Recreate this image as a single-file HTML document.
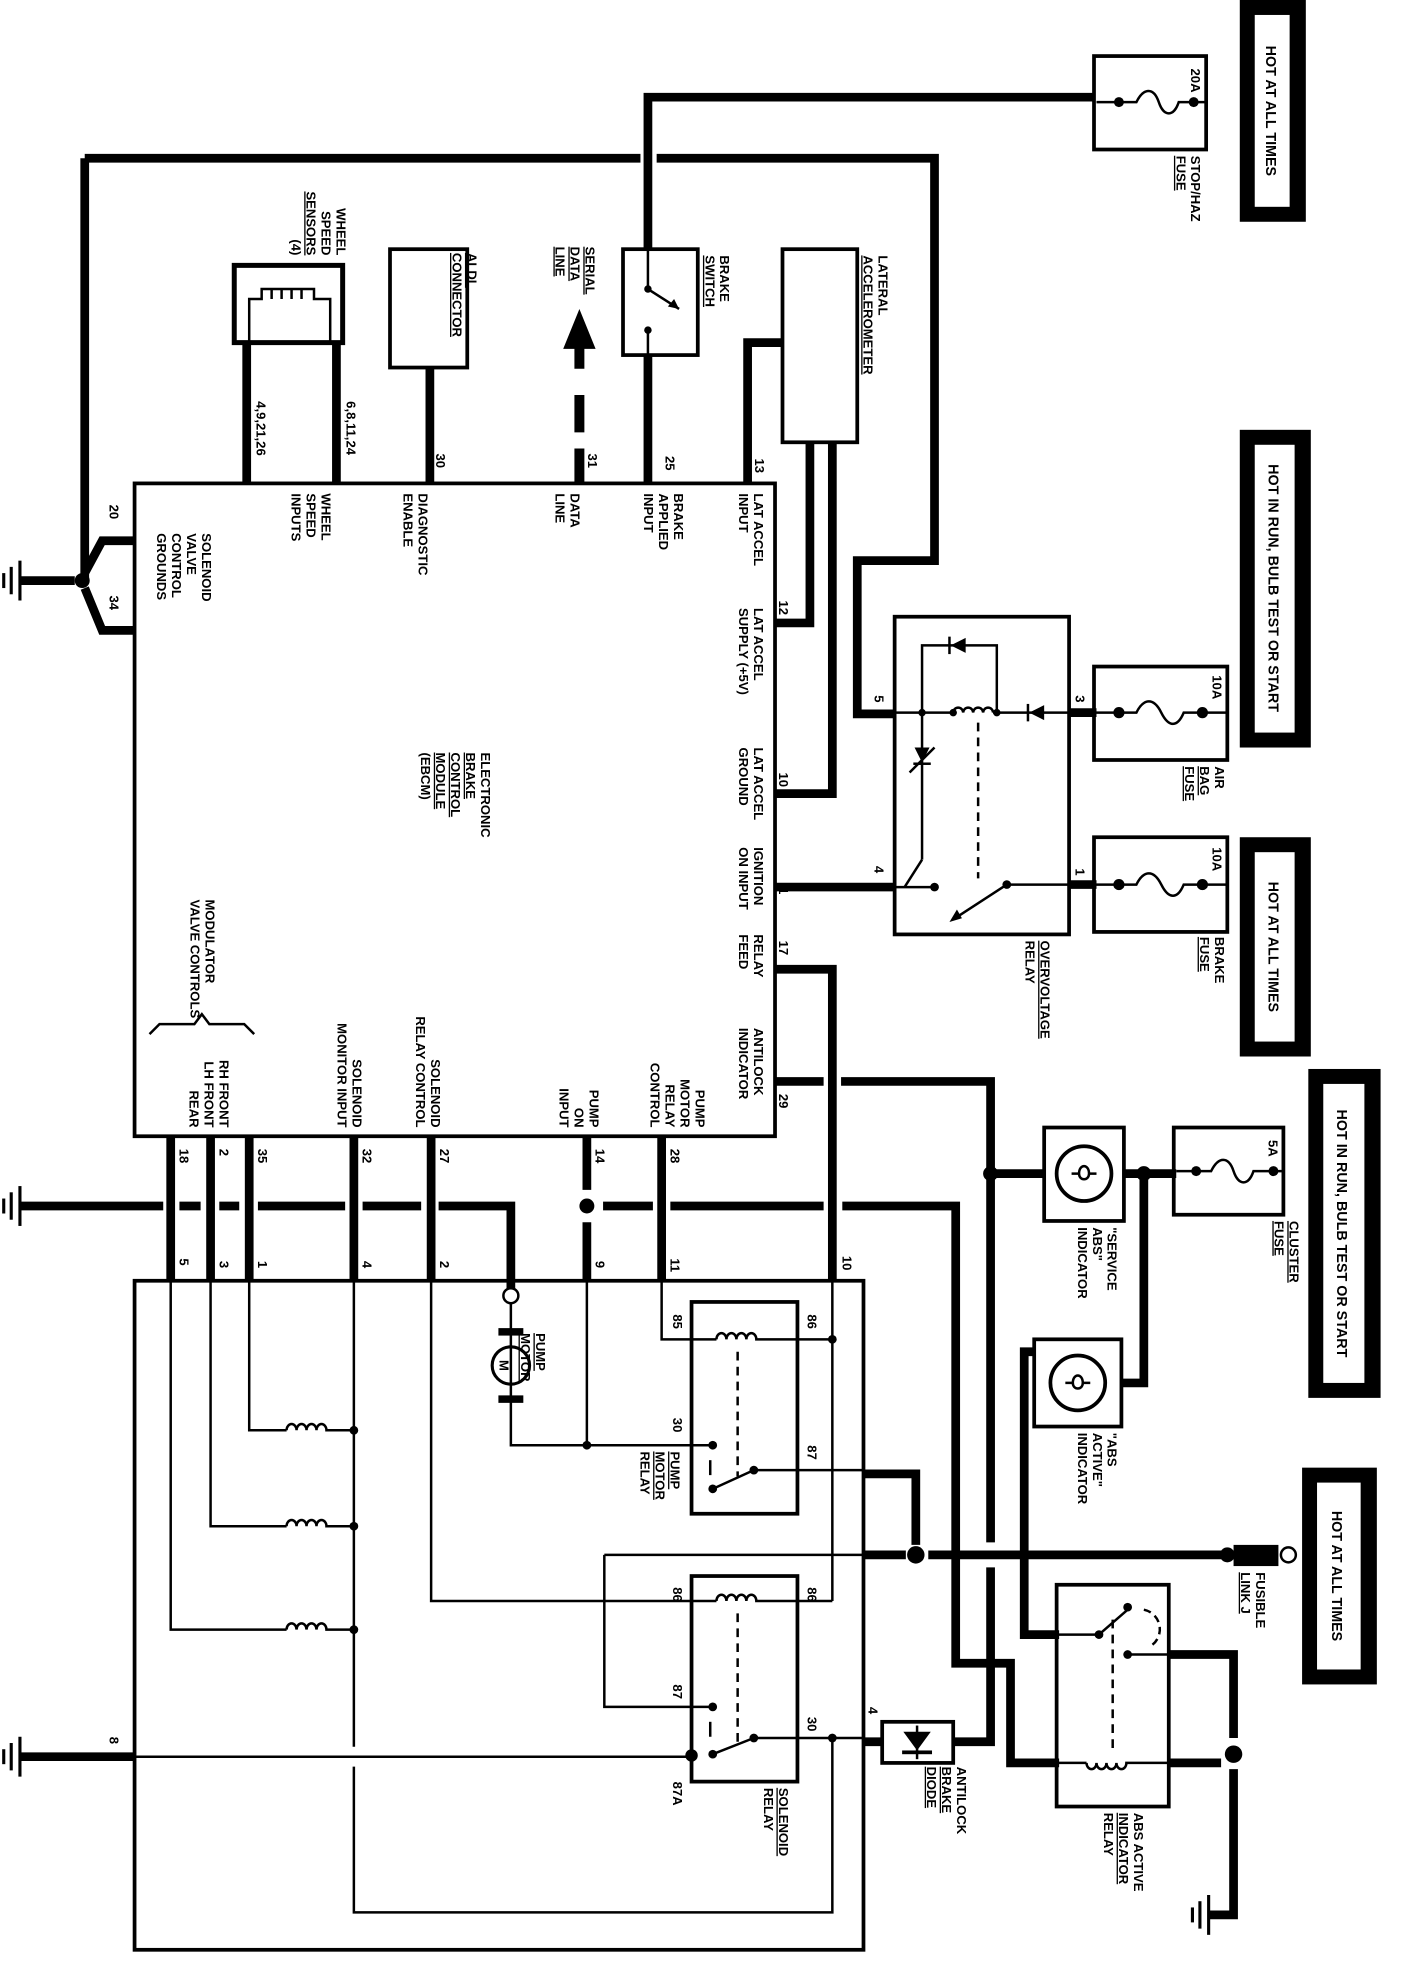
<!DOCTYPE html>
<html><head><meta charset="utf-8"><style>
html,body{margin:0;padding:0;background:#fff}
svg{display:block}
.t{font-family:"Liberation Sans Narrow","Liberation Sans",sans-serif;font-weight:bold;font-size:10.5px;fill:#000}
.u{text-decoration:underline}
.b{font-size:11.5px}
</style></head><body>
<svg width="1408" height="1966" viewBox="0 0 1130 1578" preserveAspectRatio="none" xmlns="http://www.w3.org/2000/svg">
<g fill="none" stroke="#000" stroke-linejoin="miter">
<rect x="108" y="388" width="514" height="524" stroke-width="3"/>
<rect x="108" y="1028" width="585" height="537" stroke-width="3"/>

<g stroke-width="7">
<polyline points="68,127 68,468"/>
<polyline points="68,460 82,434 108,434"/>
<polyline points="68,472 82,506 108,506"/>
<polyline points="16,466 60,466"/>
<polyline points="68,127 514,127"/>
<polyline points="527,127 750,127 750,450 688,450 688,573 718,573"/>
<polyline points="520,200 520,78 878,78"/>
<line x1="520" y1="285" x2="520" y2="388"/>
<line x1="198" y1="275" x2="198" y2="388"/>
<line x1="270" y1="275" x2="270" y2="388"/>
<line x1="345" y1="295" x2="345" y2="388"/>
<polyline points="628,275 600,275 600,388"/>
<polyline points="650,355 650,500 622,500"/>
<polyline points="668,355 668,637 622,637"/>
<line x1="622" y1="712" x2="718" y2="712"/>
<line x1="858" y1="572" x2="880" y2="572"/>
<line x1="858" y1="710" x2="880" y2="710"/>
<polyline points="622,778 668,778 668,1028"/>
<polyline points="622,868 661,868"/>
<polyline points="675,868 795,868 795,1238"/>
<polyline points="795,1258 795,1398 765,1398"/>
<line x1="795" y1="942" x2="838" y2="942"/>
<line x1="902" y1="942" x2="944" y2="942"/>
<polyline points="918,942 918,1110 900,1110"/>
<polyline points="830,1085 822,1085 822,1312 850,1312"/>
<line x1="16" y1="968" x2="131" y2="968"/>
<line x1="144" y1="968" x2="161" y2="968"/>
<line x1="176" y1="968" x2="192" y2="968"/>
<line x1="207" y1="968" x2="277" y2="968"/>
<line x1="291" y1="968" x2="338" y2="968"/>
<polyline points="352,968 410,968 410,1034"/>
<line x1="484" y1="968" x2="524" y2="968"/>
<line x1="538" y1="968" x2="661" y2="968"/>
<polyline points="676,968 767,968 767,1335 811,1335 811,1415 850,1415"/>
<line x1="137" y1="912" x2="137" y2="1028"/>
<line x1="169" y1="912" x2="169" y2="1028"/>
<line x1="200" y1="912" x2="200" y2="1028"/>
<line x1="284" y1="912" x2="284" y2="1028"/>
<line x1="346" y1="912" x2="346" y2="1028"/>
<line x1="471" y1="912" x2="471" y2="955"/>
<line x1="471" y1="981" x2="471" y2="1028"/>
<line x1="531" y1="912" x2="531" y2="1028"/>
<polyline points="693,1183 735,1183 735,1240"/>
<line x1="693" y1="1248" x2="727" y2="1248"/>
<line x1="745" y1="1248" x2="990" y2="1248"/>
<line x1="693" y1="1398" x2="708" y2="1398"/>
<polyline points="938,1328 990,1328 990,1395"/>
<polyline points="990,1420 990,1537 970,1537"/>
<line x1="938" y1="1415" x2="980" y2="1415"/>
<line x1="16" y1="1410" x2="108" y2="1410"/>
</g>

<g stroke-width="8">
<line x1="465" y1="278" x2="465" y2="296"/>
<line x1="465" y1="317" x2="465" y2="347"/>
<line x1="465" y1="360" x2="465" y2="388"/>
</g>

<rect x="500" y="200" width="60" height="85" stroke-width="3"/>
<rect x="188" y="213" width="87" height="62" stroke-width="4"/>
<polyline points="200,275 200,240 210,240 210,232 252,232 252,240 265,240 265,275" stroke-width="2"/>
<path d="M218 240 v-8 M226 240 v-8 M234 240 v-8 M242 240 v-8" stroke-width="2"/>
<rect x="313" y="200" width="62" height="95" stroke-width="3"/>
<rect x="628" y="200" width="60" height="155" stroke-width="3"/>
<rect x="718" y="495" width="140" height="255" stroke-width="3"/>
<rect x="878" y="45" width="90" height="75" stroke-width="3"/>
<rect x="878" y="535" width="107" height="75" stroke-width="3"/>
<rect x="878" y="672" width="107" height="76" stroke-width="3"/>
<rect x="942" y="905" width="88" height="70" stroke-width="3"/>
<rect x="838" y="905" width="64" height="75" stroke-width="3"/>
<rect x="830" y="1075" width="70" height="70" stroke-width="3"/>
<rect x="555" y="1045" width="85" height="170" stroke-width="3"/>
<rect x="555" y="1265" width="85" height="165" stroke-width="3"/>
<rect x="708" y="1382" width="57" height="33" stroke-width="3"/>
<rect x="848" y="1272" width="90" height="178" stroke-width="3"/>

<g stroke-width="2">
<path d="M880 82 H912 C918 70 926 70 930 82 S942 94 946 82 H968"/>
<path d="M880 572 H912 C918 560 926 560 932 572 S945 584 950 572 H985"/>
<path d="M880 710 H912 C918 698 926 698 932 710 S945 722 950 710 H985"/>
<path d="M944 940 H972 C978 928 986 928 990 940 S1002 952 1006 940 H1030"/>
</g>

<g stroke-width="2">
<line x1="520" y1="232" x2="545" y2="248"/>
<line x1="520" y1="265" x2="520" y2="285"/>
<line x1="520" y1="200" x2="520" y2="232"/>
</g>

<circle cx="870" cy="942" r="22" stroke-width="3"/>
<path d="M860 942 h6 c0 -8 8 -8 8 0 c0 6 -8 6 -8 0 M874 942 h6" stroke-width="2"/>
<circle cx="865" cy="1110" r="22" stroke-width="3"/>
<path d="M855 1110 h6 c0 -8 8 -8 8 0 c0 6 -8 6 -8 0 M869 1110 h6" stroke-width="2"/>

<g stroke-width="2">
<polyline points="740,572 740,518 800,518 800,572"/>
<line x1="718" y1="572" x2="765" y2="572"/>
<path d="M765 572 a4 4 0 0 1 8 0 a4 4 0 0 1 8 0 a4 4 0 0 1 8 0 a4 4 0 0 1 8 0"/>
<line x1="797" y1="572" x2="858" y2="572"/>
<line x1="740" y1="572" x2="740" y2="690"/>
<line x1="740" y1="690" x2="726" y2="712"/>
<line x1="718" y1="712" x2="752" y2="712"/>
<line x1="730" y1="620" x2="750" y2="600"/>
<line x1="785" y1="580" x2="785" y2="705" stroke-dasharray="7,5"/>
<line x1="808" y1="710" x2="858" y2="710"/>
<line x1="808" y1="710" x2="765" y2="738"/>
</g>

<g stroke-width="2">
<polyline points="200,1028 200,1148 230,1148"/>
<polyline points="169,1028 169,1225 230,1225"/>
<polyline points="137,1028 137,1308 230,1308"/>
<path d="M230 1148 a4 5 0 0 1 8 0 a4 5 0 0 1 8 0 a4 5 0 0 1 8 0 a4 5 0 0 1 8 0 H284"/>
<path d="M230 1225 a4 5 0 0 1 8 0 a4 5 0 0 1 8 0 a4 5 0 0 1 8 0 a4 5 0 0 1 8 0 H284"/>
<path d="M230 1308 a4 5 0 0 1 8 0 a4 5 0 0 1 8 0 a4 5 0 0 1 8 0 a4 5 0 0 1 8 0 H284"/>
<line x1="284" y1="1028" x2="284" y2="1402"/>
<polyline points="284,1418 284,1535 668,1535 668,1395"/>
<polyline points="346,1028 346,1285 575,1285"/>
<path d="M575 1285 a4 5 0 0 1 8 0 a4 5 0 0 1 8 0 a4 5 0 0 1 8 0 a4 5 0 0 1 8 0 H668"/>
<polyline points="531,1028 531,1075 575,1075"/>
<path d="M575 1075 a4 5 0 0 1 8 0 a4 5 0 0 1 8 0 a4 5 0 0 1 8 0 a4 5 0 0 1 8 0 H668"/>
<line x1="668" y1="1028" x2="668" y2="1285"/>
<line x1="592" y1="1085" x2="592" y2="1185" stroke-dasharray="7,5"/>
<line x1="592" y1="1295" x2="592" y2="1400" stroke-dasharray="7,5"/>
<polyline points="410,1046 410,1160 572,1160"/>
<line x1="471" y1="1028" x2="471" y2="1160"/>
<line x1="572" y1="1195" x2="605" y2="1180"/>
<line x1="605" y1="1180" x2="693" y2="1180"/>
<line x1="570" y1="1172" x2="570" y2="1184"/>
<polyline points="485,1248 693,1248"/>
<polyline points="485,1248 485,1370 572,1370"/>
<line x1="572" y1="1408" x2="605" y2="1395"/>
<line x1="605" y1="1395" x2="693" y2="1395"/>
<line x1="570" y1="1382" x2="570" y2="1394"/>
<line x1="108" y1="1410" x2="555" y2="1410"/>
<line x1="848" y1="1312" x2="882" y2="1312"/>
<line x1="882" y1="1312" x2="905" y2="1292"/>
<line x1="905" y1="1328" x2="938" y2="1328"/>
<path d="M918 1292 a16 16 0 0 1 4 30" stroke-dasharray="6,4"/>
<line x1="893" y1="1300" x2="893" y2="1405" stroke-dasharray="7,5"/>
<line x1="848" y1="1415" x2="872" y2="1415"/>
<path d="M872 1415 a4 5 0 0 0 8 0 a4 5 0 0 0 8 0 a4 5 0 0 0 8 0 a4 5 0 0 0 8 0 H938"/>
<line x1="736" y1="1385" x2="736" y2="1412"/>
</g>
<circle cx="410" cy="1096" r="15" stroke-width="2.5"/>
<circle cx="410" cy="1040" r="6" stroke-width="2" fill="#fff"/>
<circle cx="1034" cy="1248" r="6" stroke-width="2" fill="#fff"/>
<path d="M120 830 l8 -8 h28 l6 -8 l6 8 h28 l8 8" stroke-width="2"/>
<g stroke-width="2.5">
<line x1="16" y1="450" x2="16" y2="482"/><line x1="9" y1="455" x2="9" y2="477"/><line x1="3" y1="460" x2="3" y2="472"/>
<line x1="16" y1="952" x2="16" y2="984"/><line x1="9" y1="957" x2="9" y2="979"/><line x1="3" y1="962" x2="3" y2="974"/>
<line x1="16" y1="1394" x2="16" y2="1426"/><line x1="9" y1="1399" x2="9" y2="1421"/><line x1="3" y1="1404" x2="3" y2="1416"/>
<line x1="970" y1="1521" x2="970" y2="1553"/><line x1="963" y1="1526" x2="963" y2="1548"/><line x1="957" y1="1531" x2="957" y2="1543"/>
</g>
</g>

<g fill="#000">
<circle cx="66" cy="466" r="6"/>
<circle cx="471" cy="968" r="6"/>
<circle cx="795" cy="942" r="6"/>
<circle cx="918" cy="942" r="6"/>
<circle cx="735" cy="1248" r="7"/>
<circle cx="985" cy="1248" r="6"/>
<circle cx="990" cy="1408" r="7"/>
<polygon points="465,248 452,280 478,280"/>
<rect x="990" y="1240" width="36" height="17"/>
<rect x="400" y="1066" width="20" height="6"/>
<rect x="400" y="1120" width="20" height="6"/>
<circle cx="520" cy="232" r="3"/><circle cx="520" cy="265" r="3"/>
<circle cx="740" cy="572" r="3"/><circle cx="765" cy="572" r="3"/><circle cx="800" cy="572" r="3"/>
<circle cx="750" cy="712" r="3.5"/><circle cx="808" cy="710" r="3.5"/>
<circle cx="898" cy="82" r="4"/><circle cx="958" cy="82" r="4"/>
<circle cx="898" cy="572" r="4.5"/><circle cx="965" cy="572" r="4.5"/>
<circle cx="898" cy="710" r="4.5"/><circle cx="965" cy="710" r="4.5"/>
<circle cx="960" cy="940" r="4"/><circle cx="1022" cy="940" r="4"/>
<circle cx="284" cy="1148" r="3.5"/><circle cx="284" cy="1225" r="3.5"/><circle cx="284" cy="1308" r="3.5"/>
<circle cx="668" cy="1075" r="3.5"/><circle cx="471" cy="1160" r="3.5"/>
<circle cx="572" cy="1160" r="3.5"/><circle cx="572" cy="1195" r="3.5"/><circle cx="605" cy="1180" r="3.5"/>
<circle cx="572" cy="1370" r="3.5"/><circle cx="572" cy="1408" r="3.5"/><circle cx="605" cy="1395" r="3.5"/>
<circle cx="668" cy="1395" r="3.5"/><circle cx="555" cy="1409" r="5"/>
<circle cx="882" cy="1312" r="3.5"/><circle cx="905" cy="1328" r="3.5"/><circle cx="905" cy="1290" r="3.5"/>
<polygon points="545,248 536,246 541,240"/>
<polygon points="762,740 768,730 772,737"/>
<polygon points="775,512 775,524 763,518"/><rect x="761" y="511" width="2" height="14"/>
<polygon points="838,566 838,578 826,572"/><rect x="824" y="565" width="2" height="14"/>
<polygon points="734,600 746,600 740,612"/><rect x="733" y="612" width="14" height="2"/>
<polygon points="725,1390 747,1390 736,1405"/><rect x="724" y="1405" width="24" height="3"/>
</g>

<g fill="#000">
<rect x="995" y="0" width="53" height="178"/>
<rect x="995" y="345" width="57" height="255"/>
<rect x="995" y="672" width="57" height="176"/>
<rect x="1050" y="858" width="58" height="264"/>
<rect x="1045" y="1178" width="60" height="174"/>
</g>
<g fill="#fff">
<rect x="1007" y="12" width="28" height="154"/>
<rect x="1007" y="357" width="32" height="231"/>
<rect x="1007" y="684" width="32" height="152"/>
<rect x="1062" y="870" width="33" height="240"/>
<rect x="1057" y="1190" width="35" height="150"/>
</g>
<text class="t b" text-anchor="middle" transform="translate(1016,89) rotate(90)">HOT AT ALL TIMES</text>
<text class="t b" text-anchor="middle" transform="translate(1018,472) rotate(90)">HOT IN RUN, BULB TEST OR START</text>
<text class="t b" text-anchor="middle" transform="translate(1018,760) rotate(90)">HOT AT ALL TIMES</text>
<text class="t b" text-anchor="middle" transform="translate(1073,990) rotate(90)">HOT IN RUN, BULB TEST OR START</text>
<text class="t b" text-anchor="middle" transform="translate(1069,1265) rotate(90)">HOT AT ALL TIMES</text>

<text class="t" text-anchor="end" transform="translate(270,205) rotate(90)"><tspan x="0">WHEEL</tspan><tspan x="0" dy="12">SPEED</tspan><tspan x="0" dy="12" class="u">SENSORS</tspan><tspan x="0" dy="12">(4)</tspan></text>
<text class="t u" transform="translate(375,203) rotate(90)"><tspan x="0">ALDL</tspan><tspan x="0" dy="12">CONNECTOR</tspan></text>
<text class="t" transform="translate(470,198) rotate(90)"><tspan x="0" class="u">SERIAL</tspan><tspan x="0" dy="12" class="u">DATA</tspan><tspan x="0" dy="12" class="u">LINE</tspan></text>
<text class="t" transform="translate(578,205) rotate(90)"><tspan x="0">BRAKE</tspan><tspan x="0" dy="12" class="u">SWITCH</tspan></text>
<text class="t" transform="translate(705,205) rotate(90)"><tspan x="0">LATERAL</tspan><tspan x="0" dy="12" class="u">ACCELEROMETER</tspan></text>
<text class="t" transform="translate(956,125) rotate(90)"><tspan x="0">STOP/HAZ</tspan><tspan x="0" dy="12" class="u">FUSE</tspan></text>
<text class="t" transform="translate(206,322) rotate(90)">4,9,21,26</text>
<text class="t" transform="translate(278,322) rotate(90)">6,8,11,24</text>
<text class="t" transform="translate(350,364) rotate(90)">30</text>
<text class="t" transform="translate(472,364) rotate(90)">31</text>
<text class="t" transform="translate(534,366) rotate(90)">25</text>
<text class="t" transform="translate(606,368) rotate(90)">13</text>
<text class="t" transform="translate(88,405) rotate(90)">20</text>
<text class="t" transform="translate(88,478) rotate(90)">34</text>
<text class="t" transform="translate(258,396) rotate(90)"><tspan x="0">WHEEL</tspan><tspan x="0" dy="12">SPEED</tspan><tspan x="0" dy="12">INPUTS</tspan></text>
<text class="t" transform="translate(336,396) rotate(90)"><tspan x="0">DIAGNOSTIC</tspan><tspan x="0" dy="12">ENABLE</tspan></text>
<text class="t" transform="translate(458,396) rotate(90)"><tspan x="0">DATA</tspan><tspan x="0" dy="12">LINE</tspan></text>
<text class="t" transform="translate(541,396) rotate(90)"><tspan x="0">BRAKE</tspan><tspan x="0" dy="12">APPLIED</tspan><tspan x="0" dy="12">INPUT</tspan></text>
<text class="t" transform="translate(162,428) rotate(90)"><tspan x="0">SOLENOID</tspan><tspan x="0" dy="12">VALVE</tspan><tspan x="0" dy="12">CONTROL</tspan><tspan x="0" dy="12">GROUNDS</tspan></text>
<text class="t" transform="translate(605,396) rotate(90)"><tspan x="0">LAT ACCEL</tspan><tspan x="0" dy="12">INPUT</tspan></text>
<text class="t" transform="translate(605,488) rotate(90)"><tspan x="0">LAT ACCEL</tspan><tspan x="0" dy="12">SUPPLY (+5V)</tspan></text>
<text class="t" transform="translate(605,600) rotate(90)"><tspan x="0">LAT ACCEL</tspan><tspan x="0" dy="12">GROUND</tspan></text>
<text class="t" transform="translate(605,680) rotate(90)"><tspan x="0">IGNITION</tspan><tspan x="0" dy="12">ON INPUT</tspan></text>
<text class="t" transform="translate(605,750) rotate(90)"><tspan x="0">RELAY</tspan><tspan x="0" dy="12">FEED</tspan></text>
<text class="t" transform="translate(605,825) rotate(90)"><tspan x="0">ANTILOCK</tspan><tspan x="0" dy="12">INDICATOR</tspan></text>
<text class="t" transform="translate(625,482) rotate(90)">12</text>
<text class="t" transform="translate(625,620) rotate(90)">10</text>
<text class="t" transform="translate(625,712) rotate(90)">1</text>
<text class="t" transform="translate(625,755) rotate(90)">17</text>
<text class="t" transform="translate(625,878) rotate(90)">29</text>
<text class="t" transform="translate(386,604) rotate(90)"><tspan x="0">ELECTRONIC</tspan><tspan x="0" dy="12" class="u">BRAKE</tspan><tspan x="0" dy="12" class="u">CONTROL</tspan><tspan x="0" dy="12" class="u">MODULE</tspan><tspan x="0" dy="12">(EBCM)</tspan></text>
<text class="t" transform="translate(165,722) rotate(90)"><tspan x="0">MODULATOR</tspan><tspan x="0" dy="12">VALVE CONTROLS</tspan></text>
<text class="t" text-anchor="end" transform="translate(176,905) rotate(90)"><tspan x="0">RH FRONT</tspan><tspan x="0" dy="12">LH FRONT</tspan><tspan x="0" dy="12">REAR</tspan></text>
<text class="t" text-anchor="end" transform="translate(283,905) rotate(90)"><tspan x="0">SOLENOID</tspan><tspan x="0" dy="12">MONITOR INPUT</tspan></text>
<text class="t" text-anchor="end" transform="translate(346,905) rotate(90)"><tspan x="0">SOLENOID</tspan><tspan x="0" dy="12">RELAY CONTROL</tspan></text>
<text class="t" text-anchor="end" transform="translate(473,905) rotate(90)"><tspan x="0">PUMP</tspan><tspan x="0" dy="12">ON</tspan><tspan x="0" dy="12">INPUT</tspan></text>
<text class="t" text-anchor="end" transform="translate(558,905) rotate(90)"><tspan x="0">PUMP</tspan><tspan x="0" dy="12">MOTOR</tspan><tspan x="0" dy="12">RELAY</tspan><tspan x="0" dy="12">CONTROL</tspan></text>
<text class="t" transform="translate(144,922) rotate(90)">18</text>
<text class="t" transform="translate(176,922) rotate(90)">2</text>
<text class="t" transform="translate(207,922) rotate(90)">35</text>
<text class="t" transform="translate(291,922) rotate(90)">32</text>
<text class="t" transform="translate(353,922) rotate(90)">27</text>
<text class="t" transform="translate(478,922) rotate(90)">14</text>
<text class="t" transform="translate(538,922) rotate(90)">28</text>
<text class="t" transform="translate(144,1010) rotate(90)">5</text>
<text class="t" transform="translate(176,1012) rotate(90)">3</text>
<text class="t" transform="translate(207,1012) rotate(90)">1</text>
<text class="t" transform="translate(291,1012) rotate(90)">4</text>
<text class="t" transform="translate(353,1012) rotate(90)">2</text>
<text class="t" transform="translate(478,1012) rotate(90)">9</text>
<text class="t" transform="translate(538,1010) rotate(90)">11</text>
<text class="t" transform="translate(676,1008) rotate(90)">10</text>
<text class="t" transform="translate(540,1055) rotate(90)">85</text>
<text class="t" transform="translate(648,1055) rotate(90)">86</text>
<text class="t" transform="translate(540,1138) rotate(90)">30</text>
<text class="t" transform="translate(648,1160) rotate(90)">87</text>
<text class="t" transform="translate(540,1274) rotate(90)">86</text>
<text class="t" transform="translate(648,1274) rotate(90)">86</text>
<text class="t" transform="translate(540,1352) rotate(90)">87</text>
<text class="t" transform="translate(648,1378) rotate(90)">30</text>
<text class="t" transform="translate(540,1430) rotate(90)">87A</text>
<text class="t" transform="translate(702,558) rotate(90)">5</text>
<text class="t" transform="translate(863,558) rotate(90)">3</text>
<text class="t" transform="translate(702,695) rotate(90)">4</text>
<text class="t" transform="translate(863,697) rotate(90)">1</text>
<text class="t" transform="translate(697,1370) rotate(90)">4</text>
<text class="t" transform="translate(88,1394) rotate(90)">8</text>
<text class="t" transform="translate(956,55) rotate(90)">20A</text>
<text class="t" transform="translate(973,542) rotate(90)">10A</text>
<text class="t" transform="translate(973,680) rotate(90)">10A</text>
<text class="t" transform="translate(1018,915) rotate(90)">5A</text>
<text class="t" transform="translate(430,1070) rotate(90)"><tspan x="0" class="u">PUMP</tspan><tspan x="0" dy="12" class="u">MOTOR</tspan></text>
<text class="t" transform="translate(538,1165) rotate(90)"><tspan x="0" class="u">PUMP</tspan><tspan x="0" dy="12" class="u">MOTOR</tspan><tspan x="0" dy="12">RELAY</tspan></text>
<text class="t" transform="translate(625,1435) rotate(90)"><tspan x="0" class="u">SOLENOID</tspan><tspan x="0" dy="12">RELAY</tspan></text>
<text class="t" transform="translate(768,1418) rotate(90)"><tspan x="0">ANTILOCK</tspan><tspan x="0" dy="12" class="u">BRAKE</tspan><tspan x="0" dy="12" class="u">DIODE</tspan></text>
<text class="t" transform="translate(910,1455) rotate(90)"><tspan x="0">ABS ACTIVE</tspan><tspan x="0" dy="12" class="u">INDICATOR</tspan><tspan x="0" dy="12">RELAY</tspan></text>
<text class="t" transform="translate(835,755) rotate(90)"><tspan x="0" class="u">OVERVOLTAGE</tspan><tspan x="0" dy="12">RELAY</tspan></text>
<text class="t" transform="translate(975,615) rotate(90)"><tspan x="0">AIR</tspan><tspan x="0" dy="12" class="u">BAG</tspan><tspan x="0" dy="12" class="u">FUSE</tspan></text>
<text class="t" transform="translate(975,752) rotate(90)"><tspan x="0">BRAKE</tspan><tspan x="0" dy="12" class="u">FUSE</tspan></text>
<text class="t" transform="translate(889,985) rotate(90)"><tspan x="0">"SERVICE</tspan><tspan x="0" dy="12">ABS"</tspan><tspan x="0" dy="12">INDICATOR</tspan></text>
<text class="t" transform="translate(889,1150) rotate(90)"><tspan x="0">"ABS</tspan><tspan x="0" dy="12">ACTIVE"</tspan><tspan x="0" dy="12">INDICATOR</tspan></text>
<text class="t" transform="translate(1035,980) rotate(90)"><tspan x="0" class="u">CLUSTER</tspan><tspan x="0" dy="12" class="u">FUSE</tspan></text>
<text class="t" transform="translate(1008,1262) rotate(90)"><tspan x="0">FUSIBLE</tspan><tspan x="0" dy="12" class="u">LINK J</tspan></text>
<text class="t" text-anchor="middle" font-size="13" transform="translate(405,1096) rotate(90)"><tspan dy="4">M</tspan></text>
</svg>
</body></html>
